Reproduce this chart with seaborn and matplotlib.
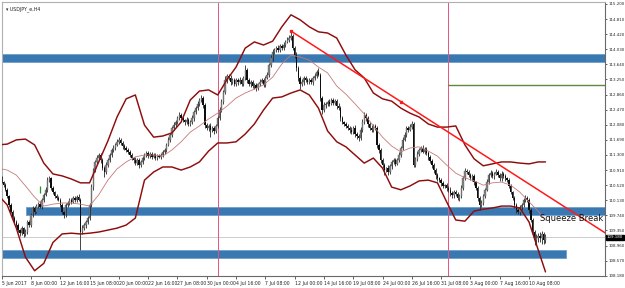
import numpy as np
import pandas as pd
import matplotlib
matplotlib.use("Agg")
import matplotlib.pyplot as plt
import seaborn as sns

# ---------------- data ----------------
TITLE = "USDJPY_e,H4"
FIRST_OPEN = 110.62
CLOSES = [
    110.65, 110.70, 110.60, 110.52, 110.40, 110.24, 110.01, 109.83, 109.67, 109.57,
    109.49, 109.36, 109.28, 109.41, 109.26, 109.31, 109.57, 109.49, 109.75, 109.93,
    109.83, 109.98, 110.03, 109.96, 110.14, 110.27, 110.40, 110.65, 110.70, 110.45,
    110.34, 110.24, 110.19, 110.14, 110.01, 109.83, 109.75, 110.01, 110.06, 110.14,
    110.09, 110.19, 110.14, 110.22, 110.14, 109.31, 109.41, 109.49, 109.57, 109.67,
    110.01, 110.47, 110.91, 111.12, 111.22, 111.30, 111.17, 110.96, 110.86, 111.04,
    111.17, 111.30, 111.43, 111.48, 111.56, 111.64, 111.69, 111.61, 111.53, 111.48,
    111.43, 111.38, 111.30, 111.22, 111.17, 111.09, 111.17, 111.04, 111.12, 111.22,
    111.30, 111.35, 111.27, 111.33, 111.25, 111.30, 111.22, 111.27, 111.25, 111.30,
    111.38, 111.43, 111.56, 111.69, 111.82, 112.00, 112.07, 112.15, 112.25, 112.33,
    112.25, 112.20, 112.15, 112.20, 112.10, 112.15, 112.25, 112.41, 112.51, 112.62,
    112.72, 112.77, 112.59, 112.07, 112.00, 112.05, 111.95, 112.00, 111.92, 112.05,
    112.25, 112.46, 112.67, 112.93, 113.24, 113.34, 113.29, 113.19, 113.24, 113.13,
    113.24, 113.19, 113.24, 113.13, 113.29, 113.50, 113.24, 113.13, 113.19, 113.08,
    113.11, 113.03, 113.13, 113.19, 113.24, 113.11, 113.29, 113.37, 113.62, 113.80,
    113.96, 114.01, 114.06, 114.01, 114.11, 114.06, 114.14, 114.22, 114.27, 114.32,
    114.37, 114.06, 113.88, 113.55, 113.29, 113.13, 113.19, 113.29, 113.24, 113.19,
    113.24, 113.19, 113.29, 113.34, 113.44, 113.37, 112.77, 112.46, 112.59, 112.62,
    112.67, 112.62, 112.72, 112.64, 112.69, 112.57, 112.51, 112.25, 112.15, 112.10,
    112.05, 112.00, 111.95, 111.89, 112.00, 111.84, 111.79, 111.74, 111.95, 112.15,
    112.33, 112.25, 112.10, 112.00, 111.95, 112.05, 112.00, 111.56, 111.43, 111.17,
    111.04, 110.91, 110.96, 110.86, 111.01, 111.12, 111.17, 111.07, 111.17, 111.30,
    111.48, 111.69, 111.82, 112.00, 111.95, 112.02, 112.10, 111.05, 111.20, 111.33,
    111.43, 111.48, 111.38, 111.45, 111.35, 111.25, 111.15, 111.05, 110.91, 110.78,
    110.70, 110.65, 110.57, 110.50, 110.52, 110.45, 110.40, 110.32, 110.27, 110.34,
    110.30, 110.20, 110.25, 110.45, 110.70, 110.88, 110.86, 110.78, 110.70, 110.75,
    110.60, 110.45, 110.19, 110.01, 110.06, 110.24, 110.40, 110.60, 110.78, 110.83,
    110.75, 110.81, 110.86, 110.78, 110.70, 110.81, 110.75, 110.70, 110.65, 110.50,
    110.34, 110.19, 110.01, 109.88, 109.83, 109.93, 110.01, 110.14, 110.19, 110.14,
    109.88, 109.62, 109.31, 109.10, 109.15, 109.21, 109.15, 109.26, 109.10, 109.18,
]
# wick lengths in hundredths of a yen
UPPER_WICK = [
    5, 4, 6, 3, 5, 4, 3, 6, 4, 5,   4, 6, 3, 5, 4, 7, 5, 4, 6, 5,
    4, 5, 6, 8, 5, 4, 6, 7, 5, 4,   5, 3, 4, 6, 4, 5, 3, 6, 4, 5,
    4, 6, 5, 4, 6, 5, 8, 5, 4, 6,   5, 7, 6, 4, 8, 5, 4, 6, 5, 7,
    6, 4, 5, 7, 5, 6, 8, 4, 5, 6,   5, 4, 6, 5, 4, 7, 5, 6, 4, 5,
    4, 5, 6, 4, 5, 6, 4, 5, 6, 4,   5, 4, 6, 7, 5, 6, 8, 5, 6, 7,
    5, 6, 4, 7, 5, 6, 8, 5, 6, 7,   6, 8, 5, 4, 6, 5, 7, 4, 6, 5,
    6, 8, 7, 5, 9, 6, 5, 8, 6, 5,   6, 5, 7, 4, 6, 12, 5, 6, 4, 5,
    5, 6, 4, 7, 5, 6, 5, 7, 6, 8,   7, 6, 5, 8, 6, 5, 7, 6, 8, 7,
    13, 6, 5, 7, 6, 5, 7, 6, 5, 6,  5, 6, 4, 7, 6, 11, 6, 5, 7, 6,
    5, 7, 6, 5, 6, 5, 7, 6, 5, 4,   6, 5, 4, 6, 5, 7, 5, 6, 8, 7,
    8, 5, 6, 4, 7, 5, 6, 5, 4, 6,   5, 6, 4, 7, 5, 6, 4, 5, 6, 7,
    6, 8, 7, 5, 6, 7, 9, 5, 6, 7,   6, 5, 7, 6, 5, 4, 6, 5, 4, 6,
    5, 4, 6, 5, 4, 6, 5, 7, 4, 5,   6, 5, 4, 7, 6, 8, 7, 5, 6, 7,
    5, 4, 6, 5, 7, 6, 5, 8, 6, 7,   6, 5, 7, 6, 5, 8, 6, 5, 4, 6,
    5, 4, 6, 5, 4, 7, 6, 5, 8, 6,   5, 4, 6, 5, 12, 8, 10, 7, 6, 9,
]
LOWER_WICK = [
    4, 5, 3, 6, 4, 5, 6, 4, 5, 6,   5, 4, 7, 5, 8, 6, 4, 5, 4, 5,
    6, 4, 5, 4, 6, 5, 4, 5, 6, 5,   4, 6, 5, 4, 6, 5, 7, 4, 5, 6,
    5, 4, 6, 5, 4, 46, 6, 5, 7, 6,  6, 5, 7, 6, 5, 6, 8, 5, 13, 6,
    5, 6, 4, 5, 6, 4, 5, 6, 7, 5,   6, 5, 4, 6, 7, 5, 6, 7, 5, 6,
    5, 6, 4, 5, 6, 4, 5, 6, 4, 5,   4, 5, 6, 4, 5, 6, 5, 4, 6, 5,
    6, 5, 7, 5, 6, 4, 5, 6, 5, 4,   5, 6, 7, 8, 6, 9, 19, 6, 8, 5,
    6, 5, 4, 6, 5, 7, 6, 8, 6, 5,   5, 7, 6, 5, 4, 6, 7, 6, 8, 6,
    7, 9, 6, 5, 4, 6, 5, 4, 6, 5,   6, 5, 4, 6, 5, 4, 6, 5, 4, 5,
    5, 6, 8, 7, 9, 12, 6, 7, 5, 6,  6, 5, 7, 6, 5, 4, 8, 10, 6, 7,
    5, 6, 4, 5, 6, 7, 5, 8, 6, 5,   6, 5, 7, 6, 5, 8, 7, 9, 6, 5,
    5, 6, 7, 5, 6, 5, 6, 8, 7, 9,   8, 12, 6, 7, 5, 6, 5, 6, 4, 5,
    6, 5, 4, 6, 5, 4, 5, 7, 6, 5,   6, 5, 4, 6, 5, 7, 6, 8, 7, 9,
    6, 5, 7, 6, 5, 8, 6, 7, 9, 8,   7, 6, 9, 5, 6, 5, 4, 6, 5, 6,
    7, 6, 8, 13, 6, 5, 6, 4, 5, 6,  5, 6, 4, 5, 6, 7, 5, 6, 5, 6,
    6, 5, 7, 8, 6, 7, 5, 6, 5, 6,   7, 6, 8, 12, 10, 9, 11, 14, 10, 8,
]

# Bollinger bands, read every 5 bars
BAND_BARS = list(range(0, 300, 5)) + [299]
BB_UPPER = [
    111.56, 111.58, 111.69, 111.71, 111.56, 111.09, 110.81, 110.76, 110.68, 110.58,
    110.58, 111.12, 111.66, 112.28, 112.75, 112.85, 112.07, 111.76, 111.79, 111.87,
    112.15, 112.72, 112.95, 112.98, 112.85, 113.24, 113.57, 114.06, 114.22, 114.14,
    114.24, 114.61, 114.92, 114.79, 114.61, 114.48, 114.45, 114.32, 113.88, 113.50,
    113.29, 112.90, 112.75, 112.69, 112.51, 112.38, 112.28, 112.10, 112.02, 112.02,
    112.05, 111.56, 111.20, 111.02, 111.07, 111.12, 111.12, 111.09, 111.07, 111.12, 111.12,
]
BB_MIDDLE = [
    110.96, 110.91, 110.78, 110.50, 110.21, 109.98, 110.03, 110.06, 110.06, 110.03,
    109.98, 110.27, 110.65, 110.94, 111.12, 111.25, 111.30, 111.30, 111.27, 111.43,
    111.64, 111.89, 112.05, 112.23, 112.38, 112.56, 112.77, 112.90, 113.00, 113.11,
    113.31, 113.65, 113.88, 113.83, 113.75, 113.57, 113.42, 113.08, 112.87, 112.62,
    112.36, 112.05, 111.76, 111.53, 111.38, 111.48, 111.51, 111.40, 111.27, 111.04,
    110.83, 110.71, 110.63, 110.52, 110.58, 110.60, 110.52, 110.34, 110.09, 109.85, 109.62,
]
BB_LOWER = [
    110.27, 110.01, 109.41, 108.66, 108.31, 108.50, 109.04, 109.26, 109.28, 109.26,
    109.28, 109.31, 109.36, 109.41, 109.49, 109.67, 110.65, 110.86, 110.99, 110.99,
    110.91, 110.99, 111.12, 111.40, 111.61, 111.61, 111.64, 111.84, 112.10, 112.46,
    112.77, 112.80, 112.90, 112.98, 112.85, 112.51, 111.92, 111.64, 111.51, 111.30,
    111.09, 111.22, 110.96, 110.47, 110.40, 110.50, 110.63, 110.65, 110.58, 110.09,
    109.62, 109.59, 109.85, 109.90, 109.93, 109.98, 109.98, 109.93, 109.57, 108.85, 108.28,
]

# drawn objects
ZONES = [  # (start bar, end bar, low price, high price)
    (None, None, 113.70, 113.90),
    (15.3, None, 109.75, 109.96),
    (None, 310.0, 108.65, 108.845),
]
MONTH_SEPARATORS = [120, 246]
OLIVE_LEVEL = (246, 113.12)
TREND_BARS = [160, 331.5]
TREND_PRICES = [114.50, 109.29]
TREND_POINTS_BARS = [160, 220]
TREND_POINTS_PRICES = [114.50, 112.68]
GREEN_MARK = (23, 110.32, 110.50)
NOTE = "Squeeze Break"
NOTE_POS = (296, 109.67)

XTICK_BARS = [18, 34, 50, 66, 82, 98, 114, 130, 146, 162, 178, 194, 210, 226, 242, 258, 274, 290]
XTICK_LABELS = ["8 Jun 00:00", "12 Jun 16:00", "15 Jun 08:00", "20 Jun 00:00", "22 Jun 16:00",
                "27 Jun 08:00", "30 Jun 00:00", "4 Jul 16:00", "7 Jul 08:00", "12 Jul 00:00",
                "14 Jul 16:00", "19 Jul 08:00", "24 Jul 00:00", "26 Jul 16:00", "31 Jul 08:00",
                "3 Aug 00:00", "7 Aug 16:00", "10 Aug 08:00"]
FIRST_LABEL = "5 Jun 2017"
YTICKS = [108.18, 108.57, 108.96, 109.35, 109.74, 110.13, 110.52, 110.91, 111.30, 111.69,
          112.08, 112.47, 112.86, 113.25, 113.64, 114.03, 114.42, 114.81, 115.20]

# ---------------- figure ----------------
sns.set_style("white")
plt.rcParams["font.family"] = ["DejaVu Sans"]

W, H = 625, 288
fig = plt.figure(figsize=(W / 100, H / 100), dpi=100)
ax = fig.add_axes([2 / W, 1 - 276 / H, 603 / W, 274 / H])
XMIN, XMAX = 2.18, 331.5
YMIN, YMAX = 108.174, 115.251
ax.set_xlim(XMIN, XMAX)
ax.set_ylim(YMIN, YMAX)

n = min(len(CLOSES), len(UPPER_WICK), len(LOWER_WICK))
closes = np.array(CLOSES[:n])
opens = np.concatenate([[FIRST_OPEN], closes[:-1]])
hi_body = np.maximum(opens, closes)
lo_body = np.minimum(opens, closes)
highs = hi_body + np.array(UPPER_WICK[:n]) / 100.0
lows = lo_body - np.array(LOWER_WICK[:n]) / 100.0
bars = np.arange(n)

# zones
zone_color = "#3a78b2"
for x0, x1, lo, hi in ZONES:
    a = XMIN - 1 if x0 is None else x0
    b = XMAX + 1 if x1 is None else x1
    ax.fill_between([a, b], [lo, lo], [hi, hi], color=zone_color, lw=0.6,
                    edgecolor="#6f9fcc", zorder=1)

# month separators and levels
for m in MONTH_SEPARATORS:
    ax.axvline(m, color="#e4557c", lw=0.7, zorder=1.5)
ax.plot([OLIVE_LEVEL[0], XMAX], [OLIVE_LEVEL[1]] * 2, color="#5e8a3c", lw=1.0, zorder=1.5)
ax.axhline(closes[-1], color="#c4c4c4", lw=0.6, zorder=1.2)

# candles
up = closes >= opens
ax.vlines(bars, lows, highs, color="#262626", lw=0.6, zorder=3)
heights = np.maximum(hi_body - lo_body, 0.015)
ax.bar(bars[up], heights[up], bottom=lo_body[up], width=0.75, color="#858585",
       edgecolor="#505050", linewidth=0.25, zorder=3.1)
ax.bar(bars[~up], heights[~up], bottom=lo_body[~up], width=0.75, color="#0d0d0d",
       linewidth=0, zorder=3.1)
ax.vlines(GREEN_MARK[0], GREEN_MARK[1], GREEN_MARK[2], color="#1f9a1f", lw=0.9, zorder=3.2)

# Bollinger bands via seaborn
bands = pd.DataFrame({"bar": BAND_BARS, "upper": BB_UPPER, "middle": BB_MIDDLE, "lower": BB_LOWER})
for col, c, lw in [("upper", "#8e0c0c", 1.05), ("lower", "#8e0c0c", 1.05), ("middle", "#c47a7a", 0.6)]:
    sns.lineplot(data=bands, x="bar", y=col, ax=ax, color=c, lw=lw, sort=False,
                 estimator=None, zorder=4)

# trend line
ax.plot(TREND_BARS, TREND_PRICES, color="#ff1a1a", lw=1.1, zorder=5, clip_on=True)
ax.plot(TREND_POINTS_BARS, TREND_POINTS_PRICES, "s", color="#ff1a1a", ms=1.6, zorder=5)

# note
ax.text(NOTE_POS[0], NOTE_POS[1], NOTE, fontsize=6.0, ha="left", va="center",
        color="#111111", zorder=6)

# title
ax.text(0.006, 0.985, "\u25BE " + TITLE, transform=ax.transAxes, fontsize=3.4,
        ha="left", va="top", color="#222222")

# axes styling
ax.set_xlabel("")
ax.set_ylabel("")
ax.yaxis.tick_right()
ax.set_yticks(YTICKS)
ax.set_yticklabels([f"{v:.3f}" for v in YTICKS])
ax.set_xticks([XMIN] + XTICK_BARS)
ax.set_xticklabels([FIRST_LABEL] + XTICK_LABELS)
for lab in ax.get_xticklabels():
    lab.set_ha("left")
ax.tick_params(axis="y", right=True, left=False, length=1.5, width=0.5, pad=0.8,
               labelsize=2.9, colors="#222222")
ax.tick_params(axis="x", bottom=True, length=2, width=0.5, pad=1.5,
               labelsize=3.3, colors="#222222")
for side in ["right", "bottom"]:
    ax.spines[side].set_color("#6a6a6a")
    ax.spines[side].set_linewidth(0.8)
for side in ["left", "top"]:
    ax.spines[side].set_color("#b0b0b0")
    ax.spines[side].set_linewidth(0.8)

# current price tag
ax.text(1.003, (closes[-1] - YMIN) / (YMAX - YMIN), f"{closes[-1]:.3f}",
        transform=ax.transAxes, fontsize=2.9, color="white", ha="left", va="center",
        bbox=dict(boxstyle="square,pad=0.12", fc="black", ec="black"), zorder=7,
        clip_on=False)

fig.savefig("out.png", dpi=100, facecolor="white")
